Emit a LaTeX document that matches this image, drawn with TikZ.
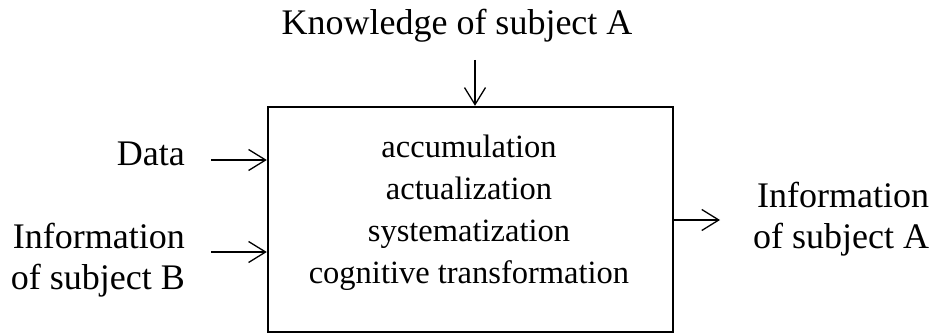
\documentclass[tikz,border=0pt]{standalone}
\usepackage{fontspec}
\setmainfont{Liberation Serif}
\usetikzlibrary{arrows.meta}

\begin{document}
\begin{tikzpicture}[x=1pt,y=-1pt,
    lbl/.style={inner sep=0pt,font=\fontsize{36}{41}\selectfont},
    procbox/.style={draw,line width=2.4pt,minimum width=405pt,minimum height=225pt,inner sep=0pt},
    steps/.style={align=center,inner sep=0pt,font=\fontsize{32.5}{42}\selectfont},
    arr/.style={line width=1.3pt,-{Straight Barb[length=17pt,width=21pt,line width=1.3pt]}}]
        \useasboundingbox (0,0) rectangle (944,336); % page frame
        \node[procbox] (proc) at (470.5,219.5) {}; % main block
        \node[steps] (stages) at (469,213) {accumulation\\actualization\\systematization\\cognitive transformation};
        \node[lbl,anchor=base] (know) at (457,35) {Knowledge of subject A};
        \node[lbl,anchor=base east] (data) at (185,166) {Data};
        \node[lbl,anchor=north east,align=right] (infob) at (185,223) {Information\\of subject B};
        \node[lbl,anchor=north west,align=right] (infoa) at (753,182) {Information\\of subject A};
        \coordinate (kin) at (475,60); % arrow tails
        \coordinate (din) at (211,160);
        \coordinate (bin) at (211,252);
        \coordinate (aout) at (720,220);
        \draw[arr] (kin) -- (kin |- proc.north);
        \draw[arr] (din) -- (din -| proc.west);
        \draw[arr] (bin) -- (bin -| proc.west);
        \draw[arr] (aout -| proc.east) -- (aout);
    \end{tikzpicture}
\end{document}
